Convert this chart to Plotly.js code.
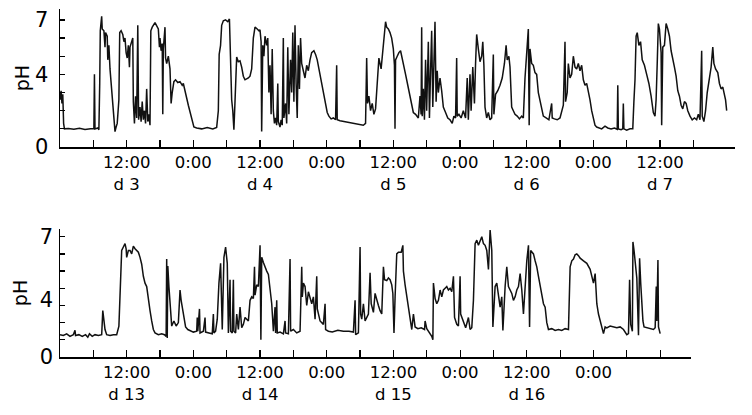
<!DOCTYPE html>
<html>
<head>
<meta charset="utf-8">
<script src="https://cdn.plot.ly/plotly-3.0.1.min.js"></script>
<style>
  html, body { margin: 0; padding: 0; background: #fff; }
  #chart { width: 752px; height: 415px; }
</style>
</head>
<body>
<div id="chart"></div>
<script>
// hours counted from 0:00 of the first day in each panel
var topHours = [
  0, 0.2, 0.35, 0.5, 0.65, 0.8, 1.5, 2.5, 3.5, 4.5, 5.5, 6.1, 6.2, 6.3, 6.8, 7.0, 7.15, 7.25, 7.5, 7.6,
  7.9, 8.1, 8.2, 8.5, 8.6, 8.8, 9.0, 9.3, 9.6, 9.9, 10.1, 10.3, 10.6, 10.75, 11.0, 11.3, 11.5, 11.7, 11.9, 12.1,
  12.3, 12.5, 12.6, 12.9, 13.1, 13.2, 13.4, 13.6, 13.8, 14.0, 14.15, 14.4, 14.6, 14.8, 15.0, 15.2, 15.4, 15.6, 15.8, 16.0,
  16.2, 16.35, 16.6, 17.1, 17.4, 17.7, 17.9, 18.0, 18.2, 18.4, 18.5, 18.6, 18.9, 19.0, 19.2, 19.5, 19.8, 20.0, 20.2, 20.5,
  20.8, 21.2, 21.6, 22.0, 22.2, 22.5, 22.8, 23.1, 23.5, 23.8, 24.1, 24.6, 25.5, 26.5, 27.5, 28.2, 28.5, 28.65, 28.9, 29.1,
  29.4, 29.8, 30.2, 30.5, 30.6, 30.7, 30.9, 31.1, 31.3, 31.5, 31.8, 32.1, 32.4, 32.7, 33.0, 33.3, 33.6, 33.9, 34.2, 34.5,
  34.8, 35.1, 35.5, 35.8, 36.0, 36.2, 36.3, 36.5, 36.7, 36.9, 37.2, 37.4, 37.6, 37.8, 38.0, 38.2, 38.4, 38.6, 38.8, 39.0,
  39.2, 39.3, 39.6, 39.8, 40.0, 40.2, 40.3, 40.6, 40.8, 41.0, 41.2, 41.5, 41.7, 41.9, 42.1, 42.3, 42.5, 42.7, 42.9, 43.1,
  43.3, 43.5, 43.8, 44.1, 44.4, 44.7, 45.0, 45.3, 45.7, 46.0, 46.3, 46.6, 46.9, 47.2, 47.5, 47.8, 48.1, 48.4, 48.8, 49.2,
  49.6, 49.8, 49.9, 50.4, 51.2, 52.0, 53.0, 54.0, 54.6, 55.0, 55.2, 55.35, 55.6, 55.9, 56.2, 56.5, 56.8, 57.1, 57.4, 57.8,
  58.2, 58.6, 58.8, 59.1, 59.4, 59.7, 60.0, 60.2, 60.3, 60.4, 60.7, 61.0, 61.3, 61.6, 61.9, 62.2, 62.6, 63.0, 63.3, 63.6,
  64.0, 64.2, 64.5, 64.8, 65.0, 65.1, 65.2, 65.4, 65.6, 65.8, 66.0, 66.3, 66.5, 66.7, 66.9, 67.1, 67.3, 67.5, 67.7, 67.9,
  68.1, 68.4, 68.7, 69.0, 69.4, 69.8, 70.2, 70.6, 70.9, 71.2, 71.4, 71.5, 71.8, 72.2, 72.6, 73.0, 73.3, 73.5, 73.8, 74.0,
  74.3, 74.6, 74.8, 75.0, 75.3, 75.6, 75.9, 76.1, 76.3, 76.5, 76.8, 77.1, 77.4, 77.7, 78.0, 78.1, 78.4, 78.8, 79.2, 79.6,
  80.0, 80.3, 80.5, 80.8, 81.0, 81.3, 81.6, 81.9, 82.3, 82.7, 83.1, 83.4, 83.7, 84.0, 84.3, 84.45, 84.6, 84.9, 85.2, 85.5,
  85.8, 86.1, 86.4, 86.7, 87.0, 87.5, 88.0, 88.5, 88.6, 89.0, 89.5, 90.0, 90.4, 90.6, 90.9, 91.0, 91.3, 91.5, 91.8, 92.1,
  92.4, 92.7, 93.0, 93.3, 93.6, 93.9, 94.2, 94.5, 94.8, 95.1, 95.4, 95.7, 96.0, 96.3, 96.6, 97.0, 97.5, 98.1, 98.6, 99.2,
  99.8, 100.3, 100.4, 100.5, 101.0, 101.3, 101.4, 101.5, 102.0, 102.6, 103.1, 103.3, 103.5, 103.7, 103.9, 104.2, 104.5, 104.8, 105.2, 105.6,
  106.0, 106.4, 106.8, 107.1, 107.3, 107.5, 107.7, 107.9, 108.2, 108.3, 108.5, 108.8, 109.1, 109.4, 109.7, 110.0, 110.3, 110.6, 110.9, 111.2,
  111.5, 111.8, 112.1, 112.4, 112.7, 113.0, 113.4, 113.8, 114.2, 114.6, 114.9, 115.2, 115.5, 115.6, 115.9, 116.2, 116.5, 116.8, 117.2, 117.5,
  117.7, 118.0, 118.4, 118.7, 119.0, 119.3, 119.6, 119.8, 120.0
];
var topPH = [
  2.6, 3.1, 2.4, 2.9, 1.3, 1.0, 1.02, 0.98, 1.03, 0.97, 1.0, 1.02, 4.0, 1.0, 1.05, 0.95, 3.5, 6.4, 7.2, 6.5,
  6.4, 5.5, 6.3, 6.1, 4.8, 5.6, 4.3, 3.2, 2.2, 0.85, 1.1, 1.3, 2.6, 6.3, 6.4, 6.2, 5.8, 6.0, 5.2, 4.9,
  5.6, 4.4, 5.5, 5.9, 6.0, 2.5, 1.3, 2.8, 1.6, 6.7, 1.5, 2.2, 1.4, 2.5, 1.5, 2.0, 1.3, 3.2, 1.4, 1.8,
  1.2, 6.4, 6.6, 6.85, 6.7, 6.5, 5.5, 6.0, 5.3, 5.7, 1.8, 5.4, 6.6, 4.9, 4.6, 5.0, 4.3, 2.4, 3.0, 3.6,
  3.7, 3.55, 3.6, 3.4, 3.5, 3.0, 2.7, 2.3, 1.8, 1.4, 1.1, 1.05, 1.0, 1.07, 1.0, 1.08, 2.0, 5.1, 5.6, 6.7,
  6.95, 7.0, 6.9, 7.05, 6.0, 5.0, 2.6, 2.0, 0.95, 2.5, 4.95, 4.7, 4.75, 4.4, 3.9, 3.7, 3.75, 3.8, 3.9, 4.3,
  6.0, 6.6, 6.5, 6.4, 6.45, 5.8, 0.85, 5.6, 5.0, 6.1, 5.6, 6.0, 3.0, 4.5, 1.8, 5.4, 2.0, 1.3, 1.6, 1.2,
  3.5, 1.4, 1.1, 1.5, 1.2, 6.0, 1.6, 2.4, 1.3, 5.5, 1.8, 4.8, 3.0, 6.3, 2.5, 6.7, 3.5, 1.6, 5.6, 3.2,
  6.0, 4.6, 4.2, 3.8, 4.5, 4.2, 4.8, 5.2, 5.3, 5.1, 4.8, 4.3, 3.8, 3.3, 3.0, 2.5, 1.9, 1.7, 1.55, 1.6,
  1.5, 4.5, 1.5, 1.45, 1.4, 1.38, 1.3, 1.25, 1.2, 1.3, 4.9, 2.4, 2.8, 2.0, 2.4, 1.8, 2.1, 3.5, 4.9, 4.3,
  5.5, 6.9, 6.6, 6.5, 6.3, 6.0, 5.4, 4.5, 1.0, 4.8, 5.0, 5.2, 5.3, 4.8, 4.3, 4.0, 3.4, 2.8, 2.2, 1.9,
  1.8, 1.7, 1.6, 2.8, 1.8, 6.6, 1.7, 3.2, 1.5, 4.8, 2.0, 5.8, 1.6, 4.2, 6.4, 2.2, 4.6, 6.9, 2.5, 4.2,
  3.0, 3.8, 3.1, 2.2, 1.9, 1.6, 1.5, 1.3, 1.7, 1.6, 4.9, 1.7, 1.8, 1.6, 2.0, 1.6, 3.8, 1.5, 4.0, 2.0,
  4.4, 2.4, 4.6, 6.2, 5.4, 4.7, 5.0, 5.8, 4.5, 2.2, 1.6, 1.9, 1.5, 1.6, 5.1, 1.8, 2.9, 3.1, 3.4, 3.8,
  4.6, 5.6, 4.8, 5.0, 4.4, 2.2, 2.0, 1.8, 1.7, 1.55, 1.7, 1.6, 3.8, 5.0, 6.5, 1.2, 5.4, 4.6, 4.5, 4.1,
  4.0, 3.0, 2.5, 2.0, 1.7, 1.6, 1.5, 2.4, 1.6, 1.55, 1.5, 1.6, 2.0, 2.3, 5.8, 2.5, 3.0, 4.6, 3.8, 4.0,
  5.0, 4.4, 4.3, 4.6, 4.2, 4.5, 3.7, 3.4, 3.5, 3.1, 2.6, 2.0, 1.5, 1.2, 1.1, 1.05, 1.0, 1.15, 1.05, 1.0,
  1.05, 0.98, 3.4, 1.0, 0.95, 1.0, 2.4, 1.0, 0.93, 1.0, 1.0, 2.5, 3.7, 6.1, 6.3, 5.6, 5.8, 4.8, 4.5, 4.0,
  3.5, 2.8, 1.9, 1.7, 2.6, 4.6, 6.8, 6.5, 5.2, 1.2, 5.5, 5.6, 6.8, 6.5, 6.1, 5.3, 4.9, 4.4, 3.9, 3.1,
  2.8, 2.3, 2.1, 2.5, 2.4, 2.0, 1.7, 1.5, 1.6, 1.5, 1.8, 1.5, 5.3, 1.7, 1.4, 2.0, 3.0, 3.6, 4.4, 5.5,
  4.6, 4.3, 4.1, 3.5, 3.2, 3.3, 2.8, 2.6, 2.0
];

var bottomHours = [
  0, 0.6, 1.2, 1.8, 2.4, 2.7, 2.8, 3.4, 4.0, 4.6, 5.0, 5.3, 5.8, 6.3, 6.9, 7.5, 7.7, 7.9, 8.1, 8.4,
  9.0, 9.6, 10.2, 10.6, 10.9, 11.1, 11.4, 11.7, 11.9, 12.0, 12.3, 12.6, 12.9, 13.2, 13.5, 13.8, 14.1, 14.4, 14.7, 15.0,
  15.3, 15.6, 15.9, 16.2, 16.5, 16.8, 17.1, 17.7, 18.3, 18.8, 19.1, 19.2, 19.3, 19.4, 19.6, 19.9, 20.1, 20.5, 20.9, 21.3,
  21.6, 21.8, 22.2, 22.6, 23.0, 23.5, 24.0, 24.6, 24.7, 24.8, 25.1, 25.2, 25.8, 26.1, 26.2, 26.8, 27.4, 27.6, 27.7, 28.0,
  28.3, 28.6, 28.9, 29.2, 29.5, 29.8, 30.1, 30.3, 30.6, 30.7, 31.0, 31.2, 31.3, 31.6, 31.8, 32.1, 32.4, 32.7, 33.0, 33.3,
  33.6, 33.9, 34.2, 34.5, 34.8, 35.0, 35.1, 35.4, 35.7, 36.0, 36.15, 36.3, 36.6, 36.9, 37.2, 37.5, 37.8, 38.1, 38.4, 38.7,
  38.8, 39.0, 39.1, 39.6, 40.2, 40.5, 40.6, 41.1, 41.4, 41.5, 42.0, 42.6, 43.2, 43.5, 43.6, 43.8, 44.1, 44.4, 44.7, 45.0,
  45.3, 45.6, 45.9, 46.2, 46.3, 46.8, 47.4, 47.7, 47.8, 48.3, 49.0, 50.0, 51.0, 52.0, 52.8, 53.1, 53.2, 53.7, 54.0, 54.1,
  54.3, 54.6, 54.9, 55.5, 55.8, 56.0, 56.4, 56.7, 57.0, 57.3, 57.6, 57.9, 58.2, 58.4, 58.8, 59.1, 59.4, 59.7, 59.9, 60.1,
  60.3, 60.6, 60.9, 61.4, 61.7, 61.8, 62.1, 62.4, 62.7, 63.0, 63.3, 63.6, 63.9, 64.4, 65.0, 65.6, 65.7, 66.0, 66.3, 66.6,
  66.9, 67.1, 67.2, 67.5, 67.8, 68.1, 68.4, 68.7, 69.0, 69.3, 69.6, 69.9, 70.2, 70.5, 70.8, 71.0, 71.4, 71.7, 72.0, 72.1,
  72.6, 73.0, 73.5, 73.8, 74.1, 74.4, 74.7, 75.0, 75.3, 75.9, 76.2, 76.5, 76.8, 77.1, 77.4, 77.7, 77.9, 78.1, 78.3, 78.6,
  78.9, 79.2, 79.5, 79.7, 80.1, 80.4, 80.7, 81.0, 81.3, 81.6, 81.9, 82.2, 82.5, 82.8, 83.1, 83.4, 83.7, 84.0, 84.3, 84.5,
  84.7, 85.2, 85.5, 85.8, 86.1, 86.4, 86.7, 87.0, 87.3, 87.6, 87.9, 88.5, 89.1, 89.7, 90.3, 90.9, 91.5, 91.8, 92.1, 92.4,
  92.7, 93.0, 93.3, 93.6, 94.2, 94.8, 95.4, 95.7, 96.0, 96.3, 96.4, 96.6, 96.9, 97.2, 97.5, 97.8, 98.1, 98.4, 99.0, 99.6,
  100.2, 100.8, 101.4, 102.0, 102.3, 102.5, 102.7, 103.0, 103.1, 103.3, 103.5, 103.8, 104.1, 104.3, 104.5, 104.7, 104.9, 105.1, 105.6, 106.2,
  106.8, 107.1, 107.3, 107.4, 107.6, 107.7, 108.0
];
var bottomPH = [
  1.3, 1.25, 1.35, 1.2, 1.3, 1.55, 1.25, 1.3, 1.2, 1.3, 1.15, 1.35, 1.2, 1.3, 1.25, 1.3, 2.7, 2.2, 1.6, 1.3,
  1.25, 1.3, 1.3, 1.8, 4.1, 6.2, 6.4, 6.6, 6.3, 5.8, 6.2, 6.2, 6.0, 6.45, 6.3, 6.2, 6.1, 5.8, 5.4, 4.7,
  4.3, 4.1, 3.3, 2.7, 2.1, 1.6, 1.4, 1.3, 1.35, 1.3, 1.2, 5.7, 1.1, 5.3, 4.1, 2.6, 1.8, 2.1, 1.8, 2.0,
  3.9, 3.3, 2.5, 1.75, 1.6, 1.5, 1.45, 1.5, 2.3, 1.5, 2.8, 1.4, 1.5, 2.3, 1.45, 1.4, 1.35, 2.5, 1.4, 1.5,
  2.2, 4.3, 5.45, 1.6, 5.8, 6.4, 5.45, 1.4, 4.5, 1.5, 1.4, 4.5, 1.5, 1.4, 2.5, 1.6, 2.9, 1.7, 1.9, 2.3,
  2.2, 2.1, 3.3, 3.5, 3.4, 5.25, 3.6, 4.2, 4.1, 6.5, 1.0, 5.8, 5.5, 5.2, 5.0, 4.8, 4.1, 3.1, 1.5, 2.9,
  1.4, 3.3, 1.4, 1.45, 1.35, 2.1, 1.4, 1.35, 5.7, 1.5, 1.6, 1.4, 1.5, 5.25, 3.5, 4.3, 4.1, 3.0, 3.8, 3.5,
  3.1, 3.5, 2.2, 4.7, 2.8, 2.1, 1.9, 3.1, 1.6, 1.5, 1.45, 1.55, 1.5, 1.5, 1.45, 3.3, 1.3, 1.4, 6.4, 2.5,
  2.2, 3.1, 2.1, 2.5, 4.9, 3.1, 2.6, 3.7, 3.3, 3.0, 2.7, 2.5, 5.25, 4.5, 4.45, 4.6, 4.5, 4.2, 3.7, 1.4,
  3.5, 6.0, 6.1, 6.1, 6.5, 5.0, 4.2, 3.5, 2.9, 2.1, 1.6, 2.5, 1.75, 1.65, 1.7, 1.6, 2.1, 1.65, 1.5, 1.3,
  1.2, 1.0, 4.3, 3.4, 3.1, 3.3, 3.9, 3.5, 3.9, 4.0, 4.1, 3.9, 4.0, 3.8, 4.7, 2.3, 1.9, 1.8, 4.7, 2.5,
  2.0, 1.7, 2.3, 1.6, 1.7, 3.3, 6.6, 6.8, 6.5, 7.0, 6.6, 6.5, 6.2, 5.1, 7.39, 6.2, 1.75, 3.1, 4.1, 4.3,
  3.6, 2.9, 3.5, 1.55, 4.1, 5.25, 4.1, 3.9, 3.7, 3.3, 3.5, 3.9, 4.1, 4.86, 3.9, 2.5, 4.1, 5.6, 6.5, 1.75,
  6.2, 6.0, 5.6, 5.25, 4.7, 4.1, 3.5, 3.1, 2.9, 2.0, 1.6, 1.65, 1.55, 1.6, 1.55, 1.65, 1.6, 5.25, 5.6, 5.7,
  5.95, 6.0, 5.9, 5.75, 5.6, 5.45, 5.1, 4.7, 4.3, 4.86, 4.1, 3.1, 2.5, 2.1, 1.75, 1.36, 1.75, 1.7, 1.8, 1.75,
  1.7, 1.75, 1.6, 1.3, 1.36, 4.5, 1.9, 1.5, 6.7, 6.2, 5.45, 4.6, 1.27, 5.75, 4.3, 2.9, 2.1, 1.75, 1.7, 1.65,
  1.6, 1.7, 4.1, 2.1, 5.65, 1.75, 1.36
];

var tickHours = [6, 12, 18, 24, 30, 36, 42, 48, 54, 60, 66, 72, 78, 84, 90, 96, 102, 108, 114];
var topTickText = ['', '12:00<br>d 3', '', '0:00', '', '12:00<br>d 4', '', '0:00', '', '12:00<br>d 5',
  '', '0:00', '', '12:00<br>d 6', '', '0:00', '', '12:00<br>d 7', ''];
var bottomTickHours = [6, 12, 18, 24, 30, 36, 42, 48, 54, 60, 66, 72, 78, 84, 90, 96, 102, 108];
var bottomTickText = ['', '12:00<br>d 13', '', '0:00', '', '12:00<br>d 14', '', '0:00', '', '12:00<br>d 15',
  '', '0:00', '', '12:00<br>d 16', '', '0:00', '', ''];
var phTicks = [0, 1, 2, 3, 4, 5, 6, 7];
var phTickText = ['0', '', '', '', '4', '', '', '7'];
// the lower panel prints its "4" a little below the tick
var bottomLabelVals = [0, 3.35, 7];
var bottomLabelText = ['0', '4', '7'];

var font = 'DejaVu Sans, Verdana, sans-serif';
var traceLine = { color: '#111', width: 1.5 };

var traces = [
  { x: topHours, y: topPH, type: 'scatter', mode: 'lines', line: traceLine, xaxis: 'x', yaxis: 'y', hoverinfo: 'skip' },
  { x: bottomHours, y: bottomPH, type: 'scatter', mode: 'lines', line: traceLine, xaxis: 'x2', yaxis: 'y2', hoverinfo: 'skip' },
  // invisible trace so the label axis of the lower panel is drawn
  { x: [null], y: [null], type: 'scatter', mode: 'lines', xaxis: 'x2', yaxis: 'y3', hoverinfo: 'skip' }
];

function xAxis(vals, text, domain, range, anchor) {
  return {
    domain: domain, range: range, anchor: anchor,
    tickmode: 'array', tickvals: vals, ticktext: text,
    ticks: 'inside', ticklen: 7, tickwidth: 1.2, tickcolor: '#000',
    showline: true, linecolor: '#000', linewidth: 1.5,
    showgrid: false, zeroline: false, fixedrange: true,
    tickfont: { family: font, size: 16.5, color: '#000' }
  };
}

function yAxis(domain, range, anchor, text, standoff) {
  return {
    domain: domain, range: range, anchor: anchor,
    tickmode: 'array', tickvals: phTicks, ticktext: text,
    ticks: 'inside', ticklen: 5, tickwidth: 1.2, tickcolor: '#000',
    showline: true, linecolor: '#000', linewidth: 1.5,
    showgrid: false, zeroline: false, fixedrange: true,
    ticklabelstandoff: 6,
    tickfont: { family: font, size: 21, color: '#000' },
    title: { text: 'pH', font: { family: font, size: 19, color: '#000' }, standoff: standoff }
  };
}

var layout = {
  width: 752,
  height: 415,
  margin: { l: 60, r: 17, t: 9, b: 58 },
  paper_bgcolor: '#fff',
  plot_bgcolor: '#fff',
  showlegend: false,
  xaxis: xAxis(tickHours, topTickText, [0, 1], [0, 121.5], 'y'),
  yaxis: yAxis([0.6034, 1], [0, 7.6], 'x', phTickText, 0),
  xaxis2: xAxis(bottomTickHours, bottomTickText, [0, 0.9344], [0, 113.5], 'y2'),
  yaxis2: yAxis([0, 0.3678], [0, 7.45], 'x2', ['', '', '', '', '', '', '', ''], 21),
  yaxis3: {
    overlaying: 'y2', anchor: 'x2', range: [0, 7.45],
    tickmode: 'array', tickvals: bottomLabelVals, ticktext: bottomLabelText,
    ticks: '', showline: false, showgrid: false, zeroline: false, fixedrange: true,
    ticklabelstandoff: 6,
    tickfont: { family: font, size: 21, color: '#000' }
  }
};

Plotly.newPlot('chart', traces, layout, { displayModeBar: false, staticPlot: true });
</script>
</body>
</html>
